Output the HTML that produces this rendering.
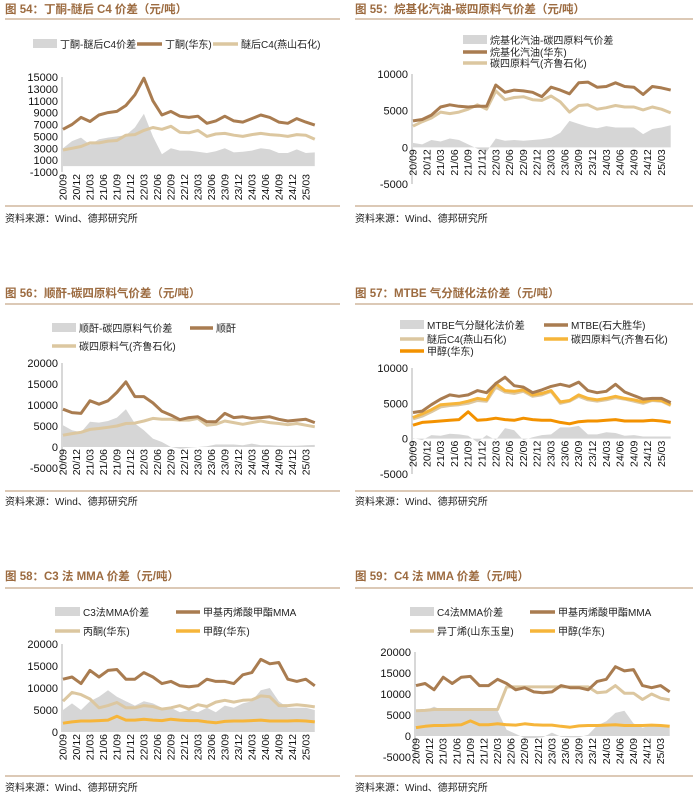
<!DOCTYPE html>
<html><head><meta charset="utf-8">
<style>
html,body{margin:0;padding:0;background:#fff;}
svg{display:block;font-family:"Liberation Sans","Noto Sans CJK SC",sans-serif;}
.title{font-size:11.5px;font-weight:bold;fill:#9c6b40;}
.src{font-size:10px;fill:#222;}
.leg{font-size:10px;fill:#222;}
.tick{font-size:11px;fill:#111;}
.xt{font-size:10.5px;fill:#111;}
</style></head>
<body>
<svg id="page" width="700" height="798" viewBox="0 0 700 798" xmlns="http://www.w3.org/2000/svg"></svg>
<script>
// shared time axis (months since 2020/09)
const months = [0,2,4,6,8,10,12,14,16,18,20,22,24,26,28,30,32,34,36,38,40,42,44,46,48,50,52,54,56];
const tickLabels = ['20/09','20/12','21/03','21/06','21/09','21/12','22/03','22/06','22/09','22/12','23/03','23/06','23/09','23/12','24/03','24/06','24/09','24/12','25/03'];

// Chart 54
const c54Ticks = [15000,13000,11000,9000,7000,5000,3000,1000,-1000];
const c54Spread = [3000,4200,4800,3600,4500,4800,5000,5200,6500,8800,5000,2000,3000,2600,2600,2400,2200,2500,3000,2300,2400,2600,3000,2800,2200,2200,2800,2200,2300];
const c54Butanone = [6200,7000,8200,7500,8600,9000,9200,10200,12000,14800,11000,8600,9200,8400,8200,8400,7200,7600,8400,7600,7400,8000,8600,8200,7400,7200,8000,7400,6900];
const c54C4 = [2700,3000,3300,3900,3900,4200,4300,5200,5300,6000,6500,6200,6700,5700,5600,6000,5000,5400,5500,5200,5000,5300,5500,5300,5200,5000,5300,5200,4500];

// Chart 55
const c55Ticks = [10000,5000,0,-5000];
const c55Spread = [600,400,1000,800,1200,1000,400,-200,-600,1200,900,1000,900,1000,1100,1300,2000,3600,3200,2800,2600,2900,2700,2700,2700,1800,2500,2700,3000];
const c55Alkylate = [3600,3800,4400,5500,5800,5600,5500,5600,5600,8500,7500,7800,7700,7500,6900,8200,7800,7300,8800,8900,8200,8300,8800,8300,8200,7200,8300,8100,7800];
const c55C4 = [2900,3500,4000,4800,4600,4800,5200,5800,5200,7700,6500,6800,6900,6500,6400,7000,6200,4800,5700,5800,5200,5400,5700,5500,5500,5100,5500,5200,4700];

// Chart 56
const c56Ticks = [20000,15000,10000,5000,0,-5000];
const c56Spread = [5200,4000,3500,6000,5800,6200,7000,9000,5600,4000,2000,1200,0,-400,-200,0,200,600,600,600,400,800,400,400,300,300,300,400,500];
const c56Maleic = [9000,8200,8000,11000,10200,11000,13000,15500,12000,12000,10500,8500,7600,6500,7000,7200,6000,6000,8000,7000,7200,6800,7000,7200,6600,6200,6400,6600,5800];
const c56C4 = [2800,3200,3500,4200,4400,4700,5000,5600,5700,6200,6800,6600,6600,6400,6400,6800,5200,5400,6200,5800,5400,5800,6200,5800,5600,5300,5600,5200,4800];

// Chart 57
const c57Ticks = [10000,5000,0,-5000];
const c57Spread = [100,-200,500,400,700,600,400,-500,500,-200,1500,1200,-200,200,500,600,1600,1600,1800,600,600,900,800,400,500,300,300,300,300];
const c57MTBE = [3700,3900,4800,5600,6200,6000,6200,6800,6500,7800,8700,7500,7300,6500,6900,7400,7700,7400,8000,6800,6500,6700,7700,6600,6100,5600,5700,5700,5100];
const c57EtherC4 = [2800,3200,3800,4500,4700,4800,5000,5400,5300,7300,6600,6400,6700,6000,6200,6700,5000,5300,6000,5500,5300,5500,5800,5600,5300,5000,5400,5300,4700];
const c57C4Gas = [3000,3500,4100,4800,4900,5000,5300,5700,5500,7800,6800,6700,6900,6200,6400,6800,5200,5400,6200,5700,5500,5700,6000,5700,5500,5200,5500,5400,4800];
const c57Methanol = [1900,2300,2400,2500,2600,2700,3800,2600,2700,2900,2700,2600,2900,2700,2600,2600,2300,2100,2400,2500,2500,2600,2700,2500,2500,2500,2600,2500,2300];

// Chart 58
const c58Ticks = [20000,15000,10000,5000,0];
const c58Spread = [5000,6500,5000,7000,8000,9500,8000,7000,6000,7000,6500,5500,5500,4500,5000,4500,5500,4500,6000,5500,6500,7000,9500,10000,7000,5500,5500,5500,5000];
const c58MMA = [12000,12500,11000,14000,12500,14000,14200,12000,12000,13500,12500,11000,11500,10500,10300,10500,12000,11500,11500,11000,13000,13500,16500,15500,15800,12000,11500,12000,10500];
const c58Acetone = [7000,9000,8500,7500,5500,6000,6700,5500,5500,6000,5800,5200,5500,6000,5200,6200,5800,6800,7200,6800,7200,7300,8200,8000,6000,6000,6200,6000,5700];
const c58Methanol = [2000,2300,2500,2500,2600,2700,3600,2700,2700,2900,2700,2600,2900,2700,2600,2600,2300,2100,2400,2500,2500,2600,2700,2500,2500,2500,2600,2500,2300];

// Chart 59
const c59Ticks = [20000,15000,10000,5000,0,-5000];
const c59Spread = [6000,6000,7000,6000,6500,6500,6000,6000,6500,6000,1500,500,-500,-500,-300,800,-200,-300,-300,300,2500,3500,5500,6000,3000,2000,2500,2500,2000];
const c59MMA = [12000,12500,11000,14000,12500,14000,14200,12000,12000,13500,12500,11000,11500,10500,10300,10500,12000,11500,11500,11000,13000,13500,16500,15500,15800,12000,11500,12000,10500];
const c59Isobutene = [6000,6100,6300,6300,6300,6300,6300,6300,6300,6300,11700,11700,11700,11700,11700,11700,11700,11700,11700,11700,10300,10500,12000,10200,10200,8700,10000,9000,8600];
const c59Methanol = [2000,2300,2500,2500,2600,2700,3600,2700,2700,2900,2700,2600,2900,2700,2600,2600,2300,2100,2400,2500,2500,2600,2700,2500,2500,2500,2600,2500,2300];

const NS = 'http://www.w3.org/2000/svg';
const svg = document.getElementById('page');
const C = {gray:'#d6d6d6', brown:'#a97c50', tan:'#dcc7a0', yellow:'#f6b53a', orange:'#f39200'};

function el(tag, attrs, parent){
  const e = document.createElementNS(NS, tag);
  for (const k in attrs) e.setAttribute(k, attrs[k]);
  (parent||svg).appendChild(e);
  return e;
}
function txt(s, attrs, parent){
  const e = el('text', attrs, parent);
  e.textContent = s;
  return e;
}

function frame(x0, x1, titleY, title, lineY, srcLineY, srcY, key){
  const t = txt(title, {x:x0, y:titleY, class:'title'});
  
  
  const l1 = el('line', {x1:x0, x2:x1, y1:lineY, y2:lineY, stroke:'#c8a98a', 'stroke-width':1.2});
  
  
  const l2 = el('line', {x1:x0, x2:x1, y1:srcLineY, y2:srcLineY, stroke:'#c8a98a', 'stroke-width':1.2});
  
  
  const s = txt('资料来源：Wind、德邦研究所', {x:x0, y:srcY, class:'src'});
  
  
}

function legend(items, key){
  const g = el('g', {});
  
  
  items.forEach(it => {
    const [kind, color, x0, x1, y, label] = it;
    const eg = el('g', {}, g);
    
    
    if (kind === 'area') el('rect', {x:x0, y:y-5, width:x1-x0, height:9, fill:color}, eg);
    else el('line', {x1:x0, x2:x1, y1:y, y2:y, stroke:color, 'stroke-width':3.5}, eg);
    txt(label, {x:x1+3, y:y+4, class:'leg'}, eg);
  });
}

function chart(c, key){
  const g = el('g', {});
  
  
  const yScale = v => c.yTop + (c.vTop - v) / (c.vTop - c.vBot) * (c.yBot - c.yTop);
  const xScale = t => c.ax + 1 + t * (c.right - c.ax - 1) / 56.5;
  if (c.area){
    let d = 'M' + xScale(months[0]) + ',' + yScale(0);
    months.forEach((t,i) => { d += ' L' + xScale(t).toFixed(1) + ',' + yScale(c.area[i]).toFixed(1); });
    d += ' L' + xScale(months[months.length-1]) + ',' + yScale(0) + ' Z';
    const a = el('path', {d:d, fill:C.gray}, g);
    
    
  }
  c.lines.forEach(ln => {
    const pts = months.map((t,i) => xScale(t).toFixed(1) + ',' + yScale(ln.data[i]).toFixed(1)).join(' ');
    const p = el('polyline', {points:pts, fill:'none', stroke:ln.color, 'stroke-width':ln.w||3, 'stroke-linejoin':'round'}, g);
    
    
  });
  const ya = el('line', {x1:c.ax, x2:c.ax, y1:c.yTop, y2:c.yBot, stroke:'#b0b0b0', 'stroke-width':1}, g);
  
  
  c.ticks.forEach(v => {
    const tk = txt(String(v), {x:c.ax-4, y:yScale(v)+4, 'text-anchor':'end', class:'tick'}, g);
    
    
  });
  const crossY = yScale(c.cross);
  tickLabels.forEach((lab,i) => {
    const x = xScale(i*3);
    const tk = txt(lab, {x:0, y:0, 'text-anchor':'end', class:'xt', transform:'translate(' + (x+3.5).toFixed(1) + ',' + (crossY+2).toFixed(1) + ') rotate(-90)'}, g);
    
    
  });
}

frame(5, 340, 13, '图 54：丁酮-醚后 C4 价差（元/吨）', 19, 206, 222, 'fig54');
frame(355, 693, 13, '图 55：烷基化汽油-碳四原料气价差（元/吨）', 19, 206, 222, 'fig55');
frame(5, 340, 297, '图 56：顺酐-碳四原料气价差（元/吨）', 304, 491, 505, 'fig56');
frame(355, 693, 297, '图 57：MTBE 气分醚化法价差（元/吨）', 304, 491, 505, 'fig57');
frame(5, 340, 580, '图 58：C3 法 MMA 价差（元/吨）', 588, 776, 791, 'fig58');
frame(355, 693, 580, '图 59：C4 法 MMA 价差（元/吨）', 588, 776, 791, 'fig59');

chart({ax:62, right:317, yTop:77, vTop:15000, yBot:172, vBot:-1000, ticks:c54Ticks, cross:-1000, area:c54Spread,
  lines:[{data:c54C4,color:C.tan,name:'ether-c4'},{data:c54Butanone,color:C.brown,name:'butanone'}]}, 'fig54');
chart({ax:412, right:673, yTop:74, vTop:10000, yBot:184, vBot:-5000, ticks:c55Ticks, cross:0, area:c55Spread,
  lines:[{data:c55C4,color:C.tan,name:'c4-gas'},{data:c55Alkylate,color:C.brown,name:'alkylate'}]}, 'fig55');
chart({ax:62, right:317, yTop:363, vTop:20000, yBot:468, vBot:-5000, ticks:c56Ticks, cross:0, area:c56Spread,
  lines:[{data:c56C4,color:C.tan,name:'c4-gas'},{data:c56Maleic,color:C.brown,name:'maleic'}]}, 'fig56');
chart({ax:412, right:673, yTop:368, vTop:10000, yBot:474, vBot:-5000, ticks:c57Ticks, cross:0, area:c57Spread,
  lines:[{data:c57Methanol,color:C.orange,name:'methanol'},{data:c57EtherC4,color:C.tan,name:'ether-c4'},{data:c57C4Gas,color:C.yellow,name:'c4-gas'},{data:c57MTBE,color:C.brown,name:'mtbe'}]}, 'fig57');
chart({ax:62, right:317, yTop:644, vTop:20000, yBot:732, vBot:0, ticks:c58Ticks, cross:0, area:c58Spread,
  lines:[{data:c58Methanol,color:C.yellow,name:'methanol'},{data:c58Acetone,color:C.tan,name:'acetone'},{data:c58MMA,color:C.brown,name:'mma'}]}, 'fig58');
chart({ax:415, right:672, yTop:652, vTop:20000, yBot:757, vBot:-5000, ticks:c59Ticks, cross:0, area:c59Spread,
  lines:[{data:c59Methanol,color:C.yellow,name:'methanol'},{data:c59Isobutene,color:C.tan,name:'isobutene'},{data:c59MMA,color:C.brown,name:'mma'}]}, 'fig59');

legend([['area',C.gray,33,57,44,'丁酮-醚后C4价差'],['line',C.brown,137,162,44,'丁酮(华东)'],['line',C.tan,213,238,44,'醚后C4(燕山石化)']], 'fig54');
legend([['area',C.gray,463,487,40,'烷基化汽油-碳四原料气价差'],['line',C.brown,463,487,52,'烷基化汽油(华东)'],['line',C.tan,463,487,63,'碳四原料气(齐鲁石化)']], 'fig55');
legend([['area',C.gray,52,76,328,'顺酐-碳四原料气价差'],['line',C.brown,190,213,328,'顺酐'],['line',C.tan,52,76,346,'碳四原料气(齐鲁石化)']], 'fig56');
legend([['area',C.gray,400,424,325,'MTBE气分醚化法价差'],['line',C.brown,544,568,325,'MTBE(石大胜华)'],['line',C.tan,400,424,339,'醚后C4(燕山石化)'],['line',C.yellow,544,568,339,'碳四原料气(齐鲁石化)'],['line',C.orange,400,424,351,'甲醇(华东)']], 'fig57');
legend([['area',C.gray,55,80,612,'C3法MMA价差'],['line',C.brown,176,200,612,'甲基丙烯酸甲酯MMA'],['line',C.tan,55,80,631,'丙酮(华东)'],['line',C.yellow,176,200,631,'甲醇(华东)']], 'fig58');
legend([['area',C.gray,410,434,612,'C4法MMA价差'],['line',C.brown,530,555,612,'甲基丙烯酸甲酯MMA'],['line',C.tan,410,434,631,'异丁烯(山东玉皇)'],['line',C.yellow,530,555,631,'甲醇(华东)']], 'fig59');
</script>
</body></html>
